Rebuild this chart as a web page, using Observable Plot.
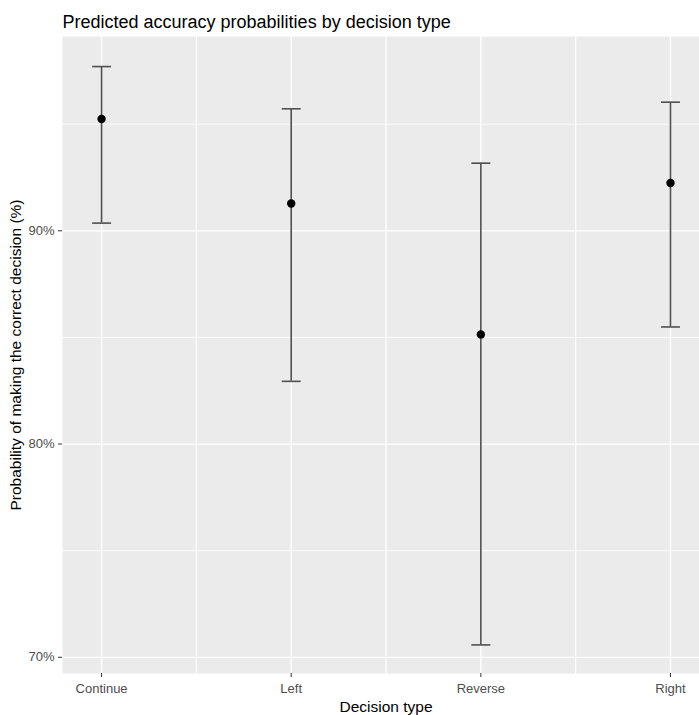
<!DOCTYPE html>
<html>
<head>
<meta charset="utf-8">
<script src="https://cdn.jsdelivr.net/npm/d3@7"></script>
<script src="https://cdn.jsdelivr.net/npm/@observablehq/plot@0.6"></script>
<style>
  html, body { margin: 0; padding: 0; background: #fff; }
  #chart svg { display: block; }
</style>
</head>
<body>
<div id="chart"></div>
<script>
const title = "Predicted accuracy probabilities by decision type";
const xTitle = "Decision type";
const yTitle = "Probability of making the correct decision (%)";

const categories = ["Continue", "Left", "Reverse", "Right"];
const estimates = [95.24, 91.28, 85.14, 92.24];
const lowerCI = [90.36, 82.94, 70.58, 85.49];
const upperCI = [97.70, 95.72, 93.17, 96.03];

const yMajor = [70, 80, 90];
const yMinor = [75, 85, 95];
const xMajor = [1, 2, 3, 4];
const xMinor = [1.5, 2.5, 3.5];

const data = categories.map((c, i) => ({
  pos: i + 1, cat: c, est: estimates[i], lo: lowerCI[i], hi: upperCI[i]
}));
const capHalf = 0.05;

const font = "'Liberation Sans', Arial, Helvetica, sans-serif";

const chart = Plot.plot({
  width: 699,
  height: 715,
  marginTop: 36,
  marginBottom: 42,
  marginLeft: 62,
  marginRight: 0,
  style: { fontFamily: font, background: "#ffffff" },
  x: { type: "linear", domain: [0.794, 4.153], axis: null },
  y: { domain: [69.24, 99.11], axis: null },
  marks: [
    Plot.frame({ fill: "#EBEBEB", stroke: null }),
    Plot.ruleY(yMinor, { stroke: "#ffffff", strokeWidth: 0.8 }),
    Plot.ruleY(yMajor, { stroke: "#ffffff", strokeWidth: 1.2 }),
    Plot.ruleX(xMinor, { stroke: "#ffffff", strokeWidth: 1.2 }),
    Plot.ruleX(xMajor, { stroke: "#ffffff", strokeWidth: 1.4 }),
    Plot.axisY({
      ticks: yMajor, tickFormat: d => d + "%", tickSize: 4, tickPadding: 4,
      stroke: "#333333", fill: "#4d4d4d", fontSize: 13, label: null
    }),
    Plot.axisX({
      ticks: xMajor, tickFormat: d => categories[d - 1], tickSize: 4, tickPadding: 6,
      stroke: "#333333", fill: "#4d4d4d", fontSize: 13, label: null
    }),
    Plot.ruleX(data, { x: "pos", y1: "lo", y2: "hi", stroke: "#505050", strokeWidth: 1.6 }),
    Plot.link(data, { x1: d => d.pos - capHalf, x2: d => d.pos + capHalf, y1: "hi", y2: "hi", stroke: "#505050", strokeWidth: 1.6 }),
    Plot.link(data, { x1: d => d.pos - capHalf, x2: d => d.pos + capHalf, y1: "lo", y2: "lo", stroke: "#505050", strokeWidth: 1.6 }),
    Plot.dot(data, { x: "pos", y: "est", r: 4.2, fill: "#000000", stroke: null }),
    Plot.text([title], { frameAnchor: "top-left", textAnchor: "start", lineAnchor: "bottom", dy: -9, fontSize: 18, fill: "#000000" }),
    Plot.text([xTitle], { frameAnchor: "bottom", textAnchor: "middle", lineAnchor: "bottom", dx: 5, dy: 38, fontSize: 15.5, fill: "#000000" }),
    Plot.text([yTitle], { frameAnchor: "left", textAnchor: "middle", rotate: -90, lineAnchor: "middle", dx: -46, fontSize: 15.5, fill: "#000000" })
  ]
});
document.getElementById("chart").appendChild(chart);
</script>
</body>
</html>
